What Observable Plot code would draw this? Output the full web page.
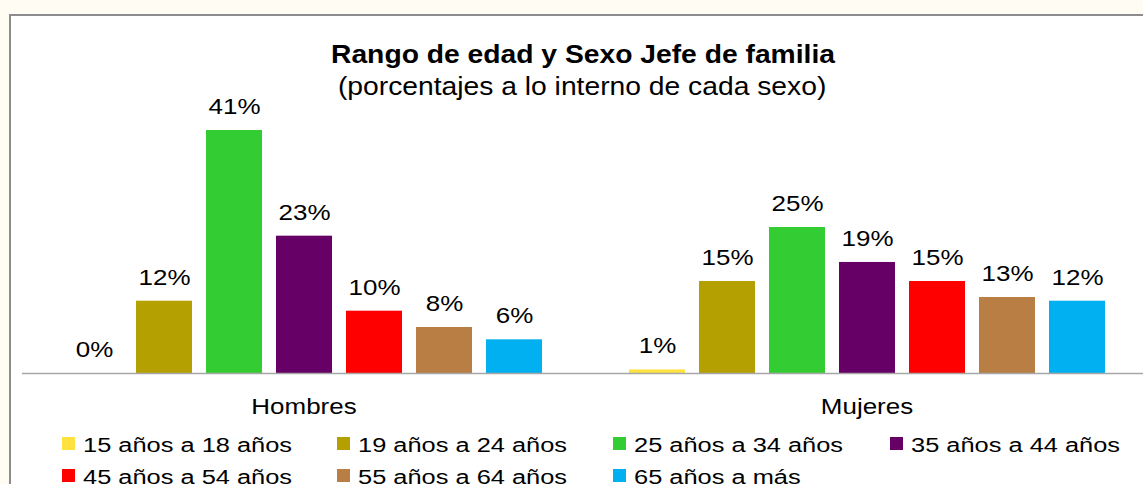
<!DOCTYPE html>
<html>
<head>
<meta charset="utf-8">
<script src="https://cdn.jsdelivr.net/npm/d3@7"></script>
<script src="https://cdn.jsdelivr.net/npm/@observablehq/plot@0.6"></script>
<style>
  html, body { margin: 0; padding: 0; overflow: hidden; background: #fffdf3; }
  #wrap { position: relative; width: 1143px; height: 484px; overflow: hidden; font-family: "Liberation Sans", Arial, sans-serif; color: #000; }
  #frame { position: absolute; left: 9px; top: 14px; width: 1200px; height: 600px; background: #fff; border-left: 2px solid #8c8c8c; border-top: 2px solid #8c8c8c; }
  .centered { position: absolute; left: 0; width: 1165px; text-align: center; white-space: nowrap; }
  .centered span { display: inline-block; transform: scaleX(1.13); transform-origin: center; }
  #title { top: 42px; font-size: 25px; line-height: 25px; font-weight: bold; }
  #subtitle { top: 74px; font-size: 25px; line-height: 25px; }
  #chart { position: absolute; left: 0; top: 0; width: 1150px; }
  #chart svg { max-width: none !important; }
  .leg { position: absolute; height: 20px; white-space: nowrap; }
  .leg .sw { position: absolute; left: 0; top: 2px; width: 13px; height: 13px; }
  .leg .lt { position: absolute; left: 21px; top: 0; font-size: 20px; line-height: 20px; transform: scaleX(1.27); transform-origin: left center; }
</style>
</head>
<body>
<div id="wrap">
  <div id="frame"></div>
  <div id="title" class="centered"><span></span></div>
  <div id="subtitle" class="centered"><span></span></div>
  <div id="chart"></div>
  <div id="legend"></div>
</div>
<script>
const titulo = "Rango de edad y Sexo Jefe de familia";
const subtitulo = "(porcentajes a lo interno de cada sexo)";
const sexos = ["Hombres", "Mujeres"];
const rangos = ["15 años a 18 años", "19 años a 24 años", "25 años a 34 años", "35 años a 44 años", "45 años a 54 años", "55 años a 64 años", "65 años a más"];
const hombres = [0, 12.15, 40.84, 23.08, 10.47, 7.73, 5.66];
const mujeres = [0.6, 15.46, 24.54, 18.66, 15.46, 12.77, 12.15];
const colores = ["#FFE23F", "#B4A000", "#33CC33", "#660066", "#FF0000", "#B97E44", "#00B0F0"];

const FONT = '"Liberation Sans", Arial, sans-serif';
document.querySelector("#title span").textContent = titulo;
document.querySelector("#subtitle span").textContent = subtitulo;

const filas = [];
sexos.forEach((s, si) => {
  const vals = si === 0 ? hombres : mujeres;
  rangos.forEach((r, ri) => filas.push({sexo: s, rango: r, valor: vals[ri]}));
});

const chart = Plot.plot({
  width: 1150,
  height: 425,
  marginLeft: 22,
  marginRight: 2,
  marginTop: 16,
  marginBottom: 52,
  style: {fontFamily: FONT, fontSize: "22px", color: "#000", background: "transparent", overflow: "visible", maxWidth: "none"},
  facet: {data: filas, x: "sexo"},
  fx: {domain: sexos, padding: 0, axis: "bottom", tickSize: 0, tickPadding: 25, label: null},
  x: {domain: rangos, paddingInner: 0.2, paddingOuter: 0.6, axis: null},
  y: {domain: [0, 60], axis: null},
  color: {domain: rangos, range: colores},
  marks: [
    Plot.barY(filas, {x: "rango", y: "valor", fill: "rango"}),
    Plot.ruleY([0], {stroke: "#a6a6a6", strokeWidth: 1.5}),
    Plot.text(filas, {x: "rango", y: "valor", text: d => `${Math.round(d.valor)}%`, dy: -23.5, fontSize: 22, fill: "#000"})
  ]
});
// stretch texts horizontally (about their anchor) like the original
chart.querySelectorAll("text").forEach(t => {
  const xs = t.getAttribute("x");
  const x = xs && /^-?[\d.]+$/.test(xs) ? +xs : 0;
  const tr = t.getAttribute("transform") || "";
  t.setAttribute("transform", `${tr} translate(${x},0) scale(1.18,1) translate(${-x},0)`.trim());
});
document.getElementById("chart").appendChild(chart);

// legend
const legend = document.getElementById("legend");
const colX = [62, 337, 613, 890];
const rowY = [435, 467];
rangos.forEach((r, i) => {
  const item = document.createElement("div");
  item.className = "leg";
  item.style.left = colX[i % 4] + "px";
  item.style.top = rowY[Math.floor(i / 4)] + "px";
  const sw = document.createElement("div");
  sw.className = "sw";
  sw.style.background = colores[i];
  const lt = document.createElement("div");
  lt.className = "lt";
  lt.textContent = r;
  item.appendChild(sw);
  item.appendChild(lt);
  legend.appendChild(item);
});
</script>
</body>
</html>
